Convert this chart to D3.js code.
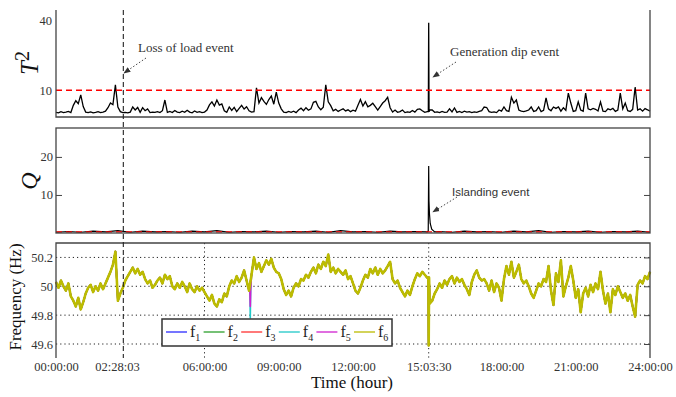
<!DOCTYPE html>
<html>
<head>
<meta charset="utf-8">
<script src="https://cdn.jsdelivr.net/npm/d3@7"></script>
<style>
body{margin:0;background:#fff;}
svg text{font-family:'Liberation Serif','Times New Roman',serif;fill:#333;}
</style>
</head>
<body>
<script>
const w = 676;
const h = 397;
const step = 0.1; // hours between samples

const timeTicks = [0, 2.4675, 6, 9, 12, 15.0583, 18, 21, 24];
const timeLabels = ["00:00:00","02:28:03","06:00:00","09:00:00","12:00:00","15:03:30","18:00:00","21:00:00","24:00:00"];
const lossOfLoadHour = 2.72;
const eventHour = 15.0583;
const t2Ticks = [10, 40];
const t2Limit = 10;
const qTicks = [10, 20];
const qLimit = 0.3;
const freqTicks = [49.6, 49.8, 50, 50.2];
const freqGridHours = [6, 15.0583];
const seriesNames = ["1","2","3","4","5","6"];
const seriesColors = ["#2a2aff","#2ca02c","#ff3030","#20c8c8","#d020d0","#bcbc00"];

// T^2 statistic, one value every 0.1 h
const t2 = [
0.5,0.3,0.8,0.4,0.6,0.9,0.4,3.5,5.5,4.2,
8.0,3.0,0.6,0.4,0.7,0.3,0.5,0.8,0.4,0.6,
1.0,2.5,4.5,3.8,12.3,2.8,0.8,0.4,0.5,0.3,
0.6,2.8,1.5,2.6,0.5,2.5,1.2,2.0,0.4,0.6,
0.5,0.8,0.4,1.2,5.8,0.5,0.9,0.4,1.3,0.6,
0.4,1.0,0.5,1.4,0.6,0.3,1.1,0.5,0.8,0.4,
0.6,1.5,3.7,5.0,3.2,5.8,3.6,4.1,1.2,0.5,
2.8,1.3,2.6,0.8,2.2,3.5,1.9,2.9,1.2,0.6,
0.8,11.0,4.5,6.8,5.2,3.9,6.0,7.5,4.0,9.2,
4.5,2.0,0.6,0.4,0.9,0.5,1.0,0.4,1.5,2.3,
1.2,2.5,1.4,2.0,4.8,5.2,2.8,1.6,2.7,12.3,
5.0,3.4,1.2,1.8,0.9,1.5,2.0,1.1,1.6,0.8,
1.4,1.0,3.5,6.0,3.2,5.1,2.9,3.5,4.4,3.0,
1.5,3.0,4.5,5.5,7.0,2.5,0.6,1.5,0.5,0.8,
1.5,0.4,0.7,0.5,1.3,0.6,1.8,2.0,1.2,0.5,
0.8,1.5,1.5,0.5,0.7,0.4,0.9,0.5,0.6,2.0,
0.7,2.4,0.5,0.9,0.4,1.0,0.6,0.8,0.4,0.7,
0.5,0.9,1.2,2.8,2.6,0.8,0.5,0.7,0.4,1.5,
1.0,2.8,1.2,0.9,7.0,4.5,5.8,1.5,1.0,0.8,
1.1,1.5,2.8,0.9,1.2,2.8,0.8,1.4,6.7,2.0,
1.2,2.8,2.2,2.8,1.0,2.5,1.4,8.8,4.5,0.9,
1.2,5.0,1.5,1.0,8.8,2.0,1.6,2.2,1.8,1.1,
5.0,1.0,0.8,2.0,1.6,2.2,0.9,1.5,8.8,2.0,
4.5,1.2,0.9,1.8,11.4,1.5,2.0,1.0,2.1,1.6,
1.0];
const t2Spikes = [{hour: 15.0583, value: 39}];

// Q statistic as [hour, value]
const qPoints = [
[0,0.2],[0.5,0.4],[1,0.2],[1.5,0.5],[2,0.3],[2.5,0.6],[3,0.2],[3.5,0.5],[4,0.3],[4.5,0.4],
[5,0.2],[5.5,0.5],[6,0.3],[6.5,0.6],[7,0.2],[7.5,0.4],[8,0.3],[8.5,0.5],[9,0.2],[9.5,0.4],
[10,0.3],[10.5,0.5],[11,0.2],[11.5,0.6],[12,0.3],[12.5,0.4],[13,0.2],[13.5,0.5],[14,0.3],[14.5,0.4],
[15,0.3],[15.04,0.5],[15.058,17.6],[15.07,8.4],[15.09,5.0],[15.12,2.5],[15.18,1.0],[15.3,0.3],
[15.5,0.4],[16,0.2],[16.5,0.5],[17,0.3],[17.5,0.4],[18,0.2],[18.5,0.5],[19,0.3],[19.5,0.6],
[20,0.2],[20.5,0.4],[21,0.3],[21.5,0.5],[22,0.2],[22.5,0.4],[23,0.3],[23.5,0.5],[24,0.2]];

// frequency (Hz), one value every 0.1 h
const freq = [
50.03,49.99,50.04,50.00,49.97,50.02,49.93,49.90,49.86,49.92,
49.84,49.89,49.95,49.99,50.01,49.96,50.00,49.97,50.02,49.98,
50.02,50.06,50.10,50.15,50.24,49.90,49.95,49.99,50.04,50.07,
50.10,50.13,50.09,50.12,50.08,50.10,50.05,50.02,50.04,49.99,
50.01,50.04,50.06,50.02,50.08,50.05,50.07,50.00,49.98,50.02,
49.99,50.03,50.00,49.96,50.02,49.98,49.96,50.00,49.97,49.99,
49.96,49.93,49.90,49.94,49.88,49.86,49.91,49.89,49.95,49.93,
50.00,50.04,50.02,50.07,50.03,50.06,50.11,50.04,49.97,50.08,
50.20,50.12,50.16,50.10,50.14,50.18,50.15,50.19,50.13,50.10,
50.09,50.05,49.98,49.94,49.97,49.93,49.99,50.02,50.00,50.05,
50.04,50.08,50.06,50.10,50.13,50.09,50.15,50.12,50.17,50.14,
50.22,50.10,50.13,50.09,50.12,50.10,50.08,50.11,50.05,50.07,
50.02,49.97,49.95,49.99,50.04,50.08,50.06,50.12,50.09,50.13,
50.08,50.12,50.09,50.11,50.14,50.17,50.05,50.02,50.04,49.99,
49.96,49.93,49.97,49.94,50.00,50.05,50.09,50.07,50.10,50.08,
50.06,49.88,49.90,49.95,49.98,50.02,49.99,50.04,50.01,50.05,
50.07,50.02,50.06,50.03,50.05,50.01,49.98,49.94,50.03,50.08,
50.11,50.06,50.04,50.05,50.02,49.97,50.04,49.96,50.02,49.99,
49.90,50.05,50.14,50.08,50.17,50.06,50.10,50.15,50.05,50.02,
50.04,50.00,49.95,49.92,49.97,50.02,50.00,50.05,50.03,50.14,
49.97,49.87,50.09,50.03,50.18,49.93,50.00,50.06,50.14,50.04,
49.92,49.98,49.82,49.95,49.99,49.93,50.01,49.96,50.02,49.98,
50.10,49.97,49.88,49.95,49.82,49.98,49.94,50.00,49.96,49.92,
49.95,49.90,49.94,49.86,49.79,50.01,50.04,50.02,50.07,50.05,
50.10];

// short drops: series index (-1 = every sensor), hour, value
const freqDips = [
  {series: 3, hour: 7.85, value: 49.78},
  {series: 4, hour: 7.85, value: 49.86},
  {series: -1, hour: 15.0583, value: 49.59}
];

var svg = d3.select("body")
            .append("svg")
            .attr("width", w)
            .attr("height", h);

var x = d3.scaleLinear().domain([0, 24]).range([56, 650]);
var yT = d3.scaleLinear().domain([-1.5, 44.5]).range([117, 10]);
var yQ = d3.scaleLinear().domain([0, 27.6]).range([233, 128]);
var yF = d3.scaleLinear().domain([49.503, 50.30]).range([358, 243]);

var frame = "#444";

// put a narrow spike into an evenly sampled series
function withSpikes(values, spikes){
  var data = values.map((v,i)=>[i*step, v]);
  spikes.forEach(function(s){
    var base = values[Math.floor(s.hour/step)];
    data.push([s.hour-0.015, base], [s.hour, s.value], [s.hour+0.015, base]);
  });
  return data.sort((a,b)=>a[0]-b[0]);
}

// ---- panel 1 : T^2
svg.append("path")
   .attr("d", d3.line().x(d=>x(d[0])).y(d=>yT(d[1]))(withSpikes(t2, t2Spikes)))
   .attr("fill","none").attr("stroke","#000").attr("stroke-width",1.3);

svg.append("line")
   .attr("x1",x(0)).attr("x2",x(24))
   .attr("y1",yT(t2Limit)).attr("y2",yT(t2Limit))
   .attr("stroke","#ff0000").attr("stroke-width",1.3).attr("stroke-dasharray","6,4");

svg.append("path")
   .attr("d","M"+x(0)+","+yT.range()[1]+"V"+yT.range()[0]+"H"+x(24)+"V"+yT.range()[1])
   .attr("fill","none").attr("stroke",frame).attr("stroke-width",1.3);

var axT = svg.append("g")
   .attr("transform","translate("+x(0)+",0)")
   .call(d3.axisLeft(yT).tickValues(t2Ticks).tickSize(0).tickPadding(4));
axT.select(".domain").remove();

// ---- panel 2 : Q
svg.append("path")
   .attr("d", d3.line().x(d=>x(d[0])).y(d=>yQ(d[1]))(qPoints))
   .attr("fill","none").attr("stroke","#000").attr("stroke-width",1.2);

svg.append("line")
   .attr("x1",x(0)).attr("x2",x(24))
   .attr("y1",yQ(qLimit)).attr("y2",yQ(qLimit))
   .attr("stroke","#ff0000").attr("stroke-width",1.4).attr("stroke-dasharray","6,4");

svg.append("rect")
   .attr("x",x(0)).attr("y",yQ.range()[1])
   .attr("width",x(24)-x(0)).attr("height",yQ.range()[0]-yQ.range()[1])
   .attr("fill","none").attr("stroke",frame).attr("stroke-width",1.3);

var axQ = svg.append("g")
   .attr("transform","translate("+x(0)+",0)")
   .call(d3.axisLeft(yQ).tickValues(qTicks).tickSize(-6).tickPadding(3));
axQ.select(".domain").remove();
var axQr = svg.append("g")
   .attr("transform","translate("+x(24)+",0)")
   .call(d3.axisRight(yQ).tickValues(qTicks).tickSize(-6).tickFormat(""));
axQr.select(".domain").remove();

// ---- panel 3 : frequency
svg.append("g").selectAll("line")
   .data(freqTicks).enter().append("line")
   .attr("x1",x(0)).attr("x2",x(24))
   .attr("y1",d=>yF(d)).attr("y2",d=>yF(d))
   .attr("stroke","#222").attr("stroke-dasharray","1.2,3");

svg.append("g").selectAll("line")
   .data(freqGridHours).enter().append("line")
   .attr("x1",d=>x(d)).attr("x2",d=>x(d))
   .attr("y1",yF.range()[1]).attr("y2",yF.range()[0])
   .attr("stroke","#222").attr("stroke-dasharray","1.2,3");

var freqLine = d3.line().x(d=>x(d[0])).y(d=>yF(d[1]));
seriesNames.forEach(function(name,k){
  var dips = freqDips.filter(d=>d.series===k || d.series===-1);
  svg.append("path")
     .attr("d", freqLine(withSpikes(freq, dips)))
     .attr("fill","none")
     .attr("stroke",seriesColors[k])
     .attr("stroke-linejoin","round")
     .attr("stroke-width", k===5 ? 2.6 : 1.6);
});

svg.append("path")
   .attr("d","M"+x(0)+","+yF.range()[0]+"V"+yF.range()[1]+"H"+x(24)+"V"+yF.range()[0])
   .attr("fill","none").attr("stroke",frame).attr("stroke-width",1.3);

var axF = svg.append("g")
   .attr("transform","translate("+x(0)+",0)")
   .call(d3.axisLeft(yF).tickValues(freqTicks).tickSize(0).tickPadding(3)
         .tickFormat(d=>d===50 ? "50" : d.toFixed(1)));
axF.select(".domain").remove();
var axFr = svg.append("g")
   .attr("transform","translate("+x(24)+",0)")
   .call(d3.axisRight(yF).tickValues(freqTicks).tickSize(-6).tickFormat(""));
axFr.select(".domain").remove();

var axX = svg.append("g")
   .attr("transform","translate(0,"+yF.range()[0]+")")
   .call(d3.axisBottom(x).tickValues(timeTicks).tickSize(0).tickPadding(4)
         .tickFormat((d,i)=>timeLabels[i]));
axX.select(".domain").remove();

svg.selectAll("g").attr("font-family",null);
svg.selectAll(".tick text")
   .style("font-size","12.5px")
   .style("fill","#333");
svg.selectAll(".tick line").attr("stroke",frame);

// loss of load event marker
svg.append("line")
   .attr("x1",x(lossOfLoadHour)).attr("x2",x(lossOfLoadHour))
   .attr("y1",yT.range()[1]).attr("y2",yF.range()[0])
   .attr("stroke","#222").attr("stroke-width",1.1).attr("stroke-dasharray","5,3");

// ---- legend
var legend = svg.append("g").attr("transform","translate(162,319)");
legend.append("rect")
   .attr("width",230).attr("height",27)
   .attr("fill","#fff").attr("stroke","#333").attr("stroke-width",1.5);
var item = legend.selectAll("g.item")
   .data(seriesNames).enter().append("g")
   .attr("class","item")
   .attr("transform",(d,i)=>"translate("+(4+i*37.6)+",13)");
item.append("line")
   .attr("x1",0).attr("x2",21)
   .attr("stroke",(d,i)=>seriesColors[i]).attr("stroke-width",1.3);
var lt = item.append("text")
   .attr("x",24).attr("y",5)
   .style("font-size","16px").style("fill","#222");
lt.append("tspan").text("f");
lt.append("tspan").attr("dy",4).style("font-size","10px").text(d=>d);

// ---- annotations
var defs = svg.append("defs");
defs.append("marker")
   .attr("id","arr").attr("viewBox","0 0 10 10")
   .attr("refX",9).attr("refY",5)
   .attr("markerWidth",7).attr("markerHeight",7)
   .attr("orient","auto")
   .append("path").attr("d","M0,1L10,5L0,9Z").attr("fill","#333");

function note(txt, tx, ty, x1, y1, x2, y2, font, size){
  svg.append("line")
     .attr("x1",x1).attr("y1",y1).attr("x2",x2).attr("y2",y2)
     .attr("stroke","#444").attr("stroke-width",1)
     .attr("stroke-dasharray","1.5,2").attr("marker-end","url(#arr)");
  svg.append("text").attr("x",tx).attr("y",ty)
     .style("font-family",font).style("font-size",size).style("fill","#333")
     .text(txt);
}
note("Loss of load event", 138, 52, 146, 58, 124, 73, "'Liberation Serif',serif", "13px");
note("Generation dip event", 450, 56, 456, 62, 433, 77, "'Liberation Serif',serif", "13px");
note("Islanding event", 452, 196, 457, 197, 433, 212, "'Liberation Sans',sans-serif", "11.5px");

// ---- axis titles
var tl = svg.append("text")
   .attr("transform","translate(38,63) rotate(-90)")
   .attr("text-anchor","middle")
   .style("font-style","italic").style("fill","#111");
tl.append("tspan").style("font-size","25px").text("T");
tl.append("tspan").attr("dy",-9).style("font-size","20px").style("font-style","normal").text("2");

svg.append("text")
   .attr("transform","translate(37,181) rotate(-90)")
   .attr("text-anchor","middle")
   .style("font-style","italic").style("font-size","24px").style("fill","#111")
   .text("Q");

svg.append("text")
   .attr("transform","translate(21,297) rotate(-90)")
   .attr("text-anchor","middle")
   .style("font-size","17px").style("fill","#111")
   .text("Frequency (Hz)");

svg.append("text")
   .attr("x",352).attr("y",388)
   .attr("text-anchor","middle")
   .style("font-size","17px").style("fill","#111")
   .text("Time (hour)");
</script>
</body>
</html>
